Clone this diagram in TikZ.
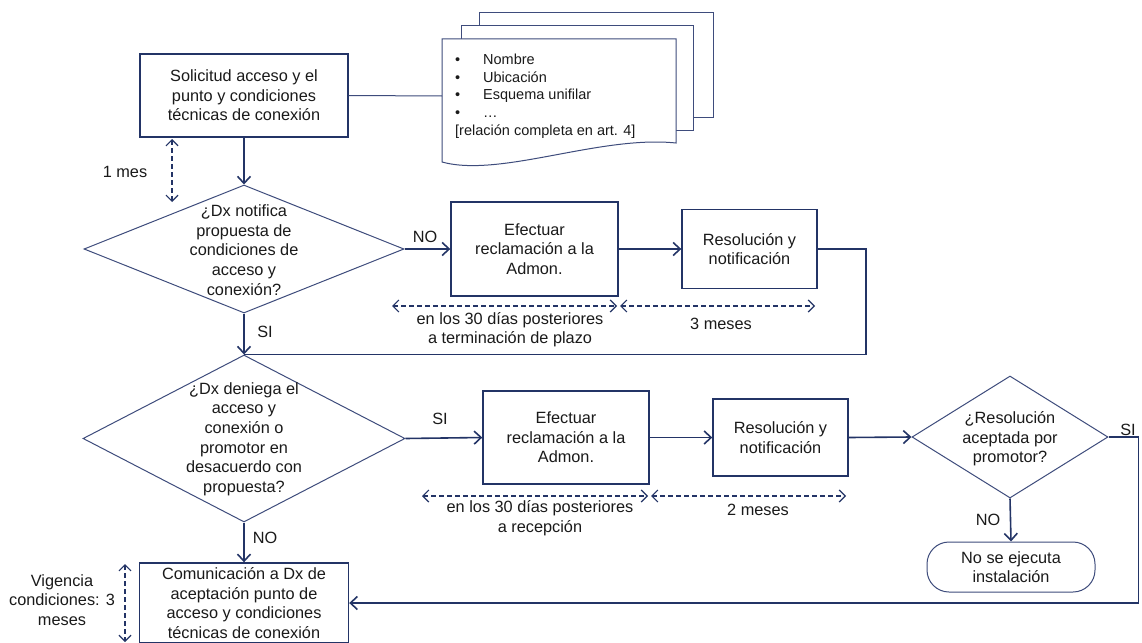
\documentclass[tikz,border=0pt]{standalone}
\usepackage{fontspec}
\setmainfont{Liberation Sans}
\usetikzlibrary{shapes.geometric,arrows.meta}
\definecolor{azul}{HTML}{233466}
\definecolor{azulclaro}{HTML}{3E4C7C}
\definecolor{texto}{HTML}{1A1A1A}
\begin{document}
\begin{tikzpicture}[x=1pt,y=-1pt,
    font=\fontsize{16.3}{19.6}\selectfont, text=texto,
    caja/.style={rectangle,draw=azul,line width=1.4pt,inner sep=0pt,align=center},
    rombo/.style={diamond,draw=azulclaro,line width=1pt,inner sep=0pt},
    flecha/.style={draw=azul,line width=1.6pt,-{Straight Barb[length=7pt,width=13pt]}},
    linea/.style={draw=azul,line width=1.6pt},
    plazo/.style={draw=azul,line width=1.2pt,dash pattern=on 5pt off 3pt,
        {Straight Barb[length=6pt,width=12pt]}-{Straight Barb[length=6pt,width=12pt]}}]
    % Rahmen
    \fill[white] (0,0) rectangle (1142,642);
    \useasboundingbox (0,0) rectangle (1142,642);
    % Documentos
    \filldraw[draw=azulclaro,fill=white,line width=1pt] (479,13) rectangle (713,117);
    \filldraw[draw=azulclaro,fill=white,line width=1pt] (461,26) rectangle (693,130);
    \filldraw[draw=azulclaro,fill=white,line width=1pt] (442,39) -- (676,39) -- (676,143)
        .. controls (600,135) and (500,178) .. (442,162) -- cycle;
    \node[anchor=north west,align=left,inner sep=0pt,font=\fontsize{14.5}{17.6}\selectfont] (lista) at (455,54)
        {\makebox[28pt][l]{\textbullet}Nombre\\
         \makebox[28pt][l]{\textbullet}Ubicación\\
         \makebox[28pt][l]{\textbullet}Esquema unifilar\\
         \makebox[28pt][l]{\textbullet}…\\
         {[}relación completa en art. 4{]}};
    \coordinate (docW) at (442,96);
    % Solicitud
    \node[caja,minimum width=208pt,minimum height=83pt] (solicitud) at (244,95.5)
        {Solicitud acceso y el\\punto y condiciones\\técnicas de conexión};
    \draw[draw=azulclaro,line width=1pt] (solicitud.east) -- (docW);
    % Notificacion
    \node[rombo,minimum width=320pt,minimum height=128pt] (notifica) at (244,249) {};
    \node[align=center] (notificaT) at (244,250)
        {¿Dx notifica\\propuesta de\\condiciones de\\acceso y\\conexión?};
    \node[caja,minimum width=167pt,minimum height=94pt] (reclamA) at (534.5,249)
        {Efectuar\\reclamación a la\\Admon.};
    \node[caja,minimum width=135pt,minimum height=79pt] (resolA) at (749.5,249)
        {Resolución y\\notificación};
    % Denegacion
    \node[rombo,minimum width=322pt,minimum height=167pt] (deniega) at (244,438.5) {};
    \node[align=center] (deniegaT) at (244,439)
        {¿Dx deniega el\\acceso y\\conexión o\\promotor en\\desacuerdo con\\propuesta?};
    \node[caja,minimum width=166pt,minimum height=93pt] (reclamB) at (566,437.5)
        {Efectuar\\reclamación a la\\Admon.};
    \node[caja,minimum width=135pt,minimum height=77pt] (resolB) at (780.5,437.5)
        {Resolución y\\notificación};
    \node[rombo,minimum width=196pt,minimum height=122pt] (acepta) at (1010,437) {};
    \node[align=center] (aceptaT) at (1010,439) {¿Resolución\\aceptada por\\promotor?};
    \node[caja,draw=azulclaro,line width=1pt,rounded corners=22pt,minimum width=168pt,minimum height=50pt]
        (fin) at (1011,567) {No se ejecuta\\instalación};
    % Comunicacion
    \node[caja,minimum width=209pt,minimum height=80pt] (comunica) at (244,603)
        {Comunicación a Dx de\\aceptación punto de\\acceso y condiciones\\técnicas de conexión};
    % Flechas
    \draw[flecha] (solicitud.south) -- (notifica.north);
    \draw[flecha] (notifica.east) -- (reclamA.west);
    \draw[flecha] (reclamA.east) -- (resolA.west);
    \draw[linea] (resolA.east) -- ++(48,0) |- (deniega.north);
    \draw[flecha] (notifica.south) -- (deniega.north);
    \draw[flecha] (deniega.east) -- (reclamB.west);
    \draw[flecha] (reclamB.east) -- (resolB.west);
    \draw[flecha] (resolB.east) -- (acepta.west);
    \draw[flecha] (acepta.east) -- ++(30,0) |- (comunica.east);
    \draw[flecha] (acepta.south) -- (fin.north);
    \draw[flecha] (deniega.south) -- (comunica.north);
    % SI, NO
    \node (noA) at (425,237) {NO};
    \node (siA) at (265,332) {SI};
    \node (siB) at (440,419) {SI};
    \node (noB) at (265,538) {NO};
    \node (noC) at (988,520) {NO};
    \node (siC) at (1128,430) {SI};
    % Plazos
    \coordinate (mesA) at (172,139);
    \coordinate (mesB) at (172,202);
    \draw[plazo] (mesA) -- (mesB);
    \node (mes) at (125,172) {1 mes};
    \coordinate (pA) at (392,306);
    \coordinate (pB) at (617,306);
    \coordinate (pC) at (620,306);
    \coordinate (pD) at (815,306);
    \draw[plazo] (pA) -- (pB);
    \draw[plazo] (pC) -- (pD);
    \node[align=center] (plazoA) at (510,329.5) {en los 30 días posteriores\\a terminación de plazo};
    \node (plazoB) at (721,324) {3 meses};
    \coordinate (qA) at (422,496);
    \coordinate (qB) at (648,496);
    \coordinate (qC) at (651,496);
    \coordinate (qD) at (846,496);
    \draw[plazo] (qA) -- (qB);
    \draw[plazo] (qC) -- (qD);
    \node[align=center] (plazoC) at (540,518) {en los 30 días posteriores\\a recepción};
    \node (plazoD) at (758,510) {2 meses};
    \coordinate (vigA) at (125,564);
    \coordinate (vigB) at (125,642);
    \draw[plazo] (vigA) -- (vigB);
    \node[align=center] (vigencia) at (62,600) {Vigencia\\condiciones: 3\\meses};
\end{tikzpicture}
\end{document}
